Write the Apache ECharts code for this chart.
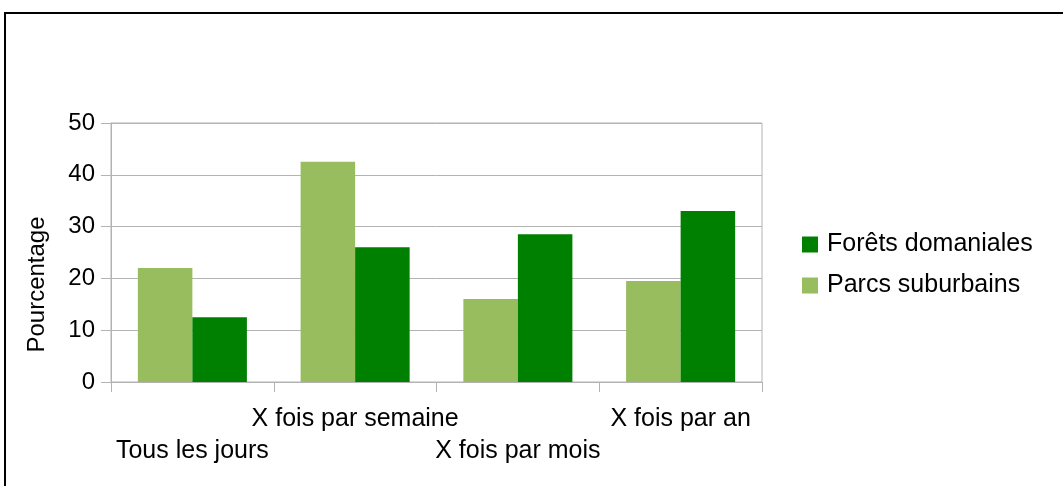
<!DOCTYPE html>
<html>
<head>
<meta charset="utf-8">
<script src="https://cdn.jsdelivr.net/npm/echarts@6/dist/echarts.min.js"></script>
<style>
  html, body { margin: 0; padding: 0; background: #fff; }
  #chart { width: 1063px; height: 486px; }
</style>
</head>
<body>
<div id="chart"></div>
<script>
// categories and values
const categories = ['Tous les jours', 'X fois par semaine', 'X fois par mois', 'X fois par an']
const parcsSuburbains = [22, 42.5, 16, 19.5]
const foretsDomaniales = [12.5, 26, 28.5, 33]
const yTicks = [0, 10, 20, 30, 40, 50]

const font = '"Liberation Sans", Arial, sans-serif'
const gridColor = '#b3b3b3'

const myChart = echarts.init(document.getElementById('chart'))
const option = {
    animation: false,
    textStyle: { fontFamily: font },
    graphic: [{
        type: 'rect',
        shape: { x: 5, y: 13, width: 1100, height: 520 },
        style: { fill: 'none', stroke: '#000', lineWidth: 2 }
    }],
    grid: {
        left: 111,
        right: 301,
        top: 123,
        bottom: 104,
        show: true,
        borderColor: gridColor,
        borderWidth: 1
    },
    legend: {
        orient: 'vertical',
        left: 797,
        top: 227,
        itemWidth: 16,
        itemHeight: 16,
        itemGap: 16,
        icon: 'rect',
        data: ['Forêts domaniales', 'Parcs suburbains'],
        textStyle: { fontSize: 25, color: '#000', fontFamily: font, padding: [0, 0, 0, 4] }
    },
    xAxis: {
        type: 'category',
        data: categories,
        axisLine: { lineStyle: { color: gridColor } },
        axisTick: { show: true, length: 10, lineStyle: { color: gridColor } },
        axisLabel: {
            interval: 0,
            margin: 21,
            fontSize: 25,
            color: '#000',
            lineHeight: 32,
            fontFamily: font,
            formatter: (value, index) => index % 2 === 0 ? '\n' + value : value
        }
    },
    yAxis: {
        type: 'value',
        min: yTicks[0],
        max: yTicks[yTicks.length - 1],
        interval: 10,
        name: 'Pourcentage',
        nameLocation: 'middle',
        nameGap: 62,
        nameTextStyle: { fontSize: 24, color: '#000', fontFamily: font, padding: [0, 64, 0, 0] },
        axisLine: { show: true, lineStyle: { color: gridColor } },
        axisTick: { show: true, length: 10, lineStyle: { color: gridColor } },
        axisLabel: { fontSize: 24, color: '#000', margin: 16, fontFamily: font },
        splitLine: { show: true, lineStyle: { color: gridColor } }
    },
    series: [
        {
            name: 'Parcs suburbains',
            type: 'bar',
            data: parcsSuburbains,
            itemStyle: { color: '#97bd5f' },
            barGap: 0,
            barCategoryGap: '33%'
        },
        {
            name: 'Forêts domaniales',
            type: 'bar',
            data: foretsDomaniales,
            itemStyle: { color: '#008000' },
            barGap: 0,
            barCategoryGap: '33%'
        }
    ]
}
myChart.setOption(option)
</script>
</body>
</html>
